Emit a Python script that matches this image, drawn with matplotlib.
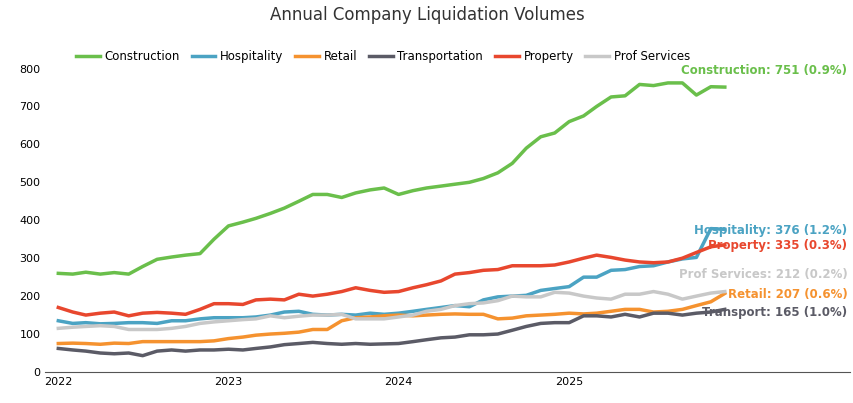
import pandas as pd
import matplotlib
matplotlib.use('Agg')
import matplotlib.pyplot as plt

months = pd.date_range('2022-01-01', periods=48, freq='MS')

construction = [260,258,263,258,262,258,278,297,303,308,312,350,
                385,395,405,418,432,450,468,468,460,472,480,485,
                468,478,485,490,495,500,510,525,550,590,620,630,
                660,675,700,725,728,758,755,762,762,730,752,751]
hospitality = [135,128,130,127,128,130,130,128,135,135,140,143,
               143,143,145,150,158,160,152,150,152,150,155,152,
               155,160,165,170,175,172,190,198,200,202,215,220,
               225,250,250,268,270,278,280,290,298,302,378,376]
retail = [75,76,75,73,76,75,80,80,80,80,80,82,
          88,92,97,100,102,105,112,112,135,143,145,148,
          150,148,150,152,153,152,152,140,142,148,150,152,
          155,153,155,160,165,165,158,160,165,175,185,207]
transport = [62,58,55,50,48,50,43,55,58,55,58,58,
             60,58,62,66,72,75,78,75,73,75,73,74,
             75,80,85,90,92,98,98,100,110,120,128,130,
             130,148,148,145,152,145,155,155,150,155,158,165]
property_ = [170,158,150,155,158,148,155,157,155,152,165,180,
             180,178,190,192,190,205,200,205,212,222,215,210,
             212,222,230,240,258,262,268,270,280,280,280,282,
             290,300,308,302,295,290,288,290,300,315,330,335]
prof = [115,118,120,122,120,112,112,112,115,120,128,132,
        135,138,140,148,143,147,150,150,152,140,140,140,
        145,150,160,165,175,180,182,188,200,198,198,210,
        208,200,195,192,205,205,212,205,192,200,208,212]

names = ['Construction', 'Hospitality', 'Retail', 'Transportation', 'Property', 'Prof Services']
values = [construction, hospitality, retail, transport, property_, prof]
colors = ['#6abf4b', '#4ba3c3', '#f5922f', '#5b5b66', '#e8472e', '#c8c8c8']
end_labels = ['Construction: 751 (0.9%)', 'Hospitality: 376 (1.2%)', 'Retail: 207 (0.6%)',
              'Transport: 165 (1.0%)', 'Property: 335 (0.3%)', 'Prof Services: 212 (0.2%)']
label_pos = [795, 374, 203, 158, 334, 258]

fig, ax = plt.subplots(figsize=(8.54, 4.03), dpi=100)
fig.subplots_adjust(left=0.053, right=0.995, top=0.83, bottom=0.077)
for name, vals, c in zip(names, values, colors):
    ax.plot(months, vals, color=c, lw=2.5, label=name, clip_on=False)
for lab, y, c in zip(end_labels, label_pos, colors):
    ax.text(0.997, y, lab, transform=ax.get_yaxis_transform(), ha='right', va='center',
            color=c, fontsize=8.5, fontweight='bold')

ax.set_ylim(0, 800)
ax.set_yticks(range(0, 801, 100))
ax.set_xlim(months[0] - pd.Timedelta(days=28), months[-1] + pd.Timedelta(days=268))
ax.set_xticks(pd.to_datetime(['2022-01-01', '2023-01-01', '2024-01-01', '2025-01-01']))
ax.set_xticklabels(['2022', '2023', '2024', '2025'])
ax.tick_params(labelsize=8, length=0)
for s in ['top', 'right', 'left']:
    ax.spines[s].set_visible(False)
ax.spines['bottom'].set_color('#555555')
ax.legend(loc='center', bbox_to_anchor=(0.42, 1.04), ncol=6, frameon=False,
          fontsize=8.5, handlelength=2, columnspacing=1.0, handletextpad=0.4)
fig.suptitle('Annual Company Liquidation Volumes', fontsize=12, y=0.985, color='#333333')
fig.savefig('out.png')
